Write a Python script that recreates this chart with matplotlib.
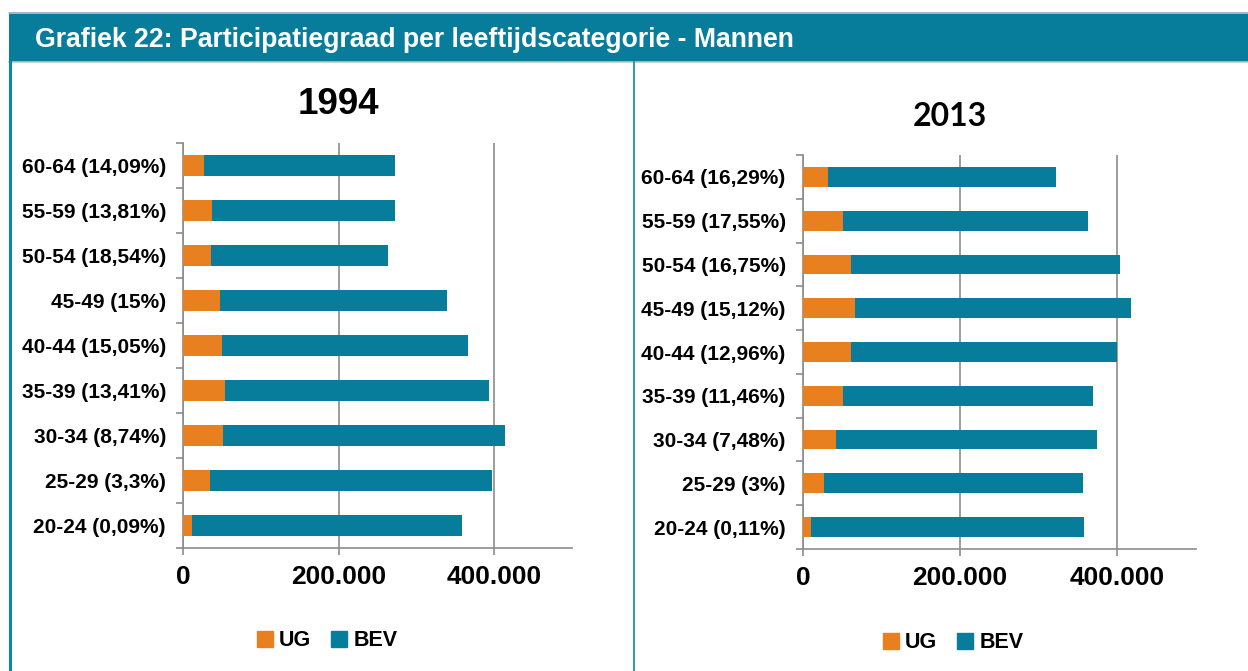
import matplotlib.pyplot as plt
from matplotlib.patches import Rectangle
from matplotlib.lines import Line2D
from matplotlib.ticker import FuncFormatter, FixedLocator

TEAL = "#077d9b"
ORANGE = "#e8801f"
GRID = "#8c8c8c"

plt.rcParams["font.family"] = ["Liberation Sans", "DejaVu Sans"]
plt.rcParams["font.weight"] = "bold"

# ── data (bottom to top) ─────────────────────────────────────────────────
labels_1994 = ["20-24 (0,09%)", "25-29 (3,3%)", "30-34 (8,74%)", "35-39 (13,41%)",
               "40-44 (15,05%)", "45-49 (15%)", "50-54 (18,54%)", "55-59 (13,81%)",
               "60-64 (14,09%)"]
ug_1994 = [11000, 34000, 51000, 53500, 49300, 47200, 36200, 36700, 26200]
tot_1994 = [358500, 396800, 413600, 393200, 365900, 339600, 263000, 272400, 272400]

labels_2013 = ["20-24 (0,11%)", "25-29 (3%)", "30-34 (7,48%)", "35-39 (11,46%)",
               "40-44 (12,96%)", "45-49 (15,12%)", "50-54 (16,75%)", "55-59 (17,55%)",
               "60-64 (16,29%)"]
ug_2013 = [10200, 27000, 41700, 50500, 61700, 66300, 61700, 51000, 32100]
tot_2013 = [358200, 356200, 374600, 369400, 400500, 418400, 404100, 363300, 322400]

bev_1994 = [t - u for t, u in zip(tot_1994, ug_1994)]
bev_2013 = [t - u for t, u in zip(tot_2013, ug_2013)]

W, H = 1248, 671
fig = plt.figure(figsize=(W / 100, H / 100), dpi=100)


def px(x, y):
    return x / W, 1 - y / H


# ── frame / header ───────────────────────────────────────────────────────
fig.patches.append(Rectangle(px(9, 62), (W - 9) / W, 50 / H, transform=fig.transFigure,
                             facecolor=TEAL, edgecolor="none"))
for yy in (12.5, 62):
    fig.lines.append(Line2D([9 / W, 1], [1 - yy / H] * 2, transform=fig.transFigure,
                            color="#c4c4c4", lw=1.2))
fig.lines.append(Line2D([10 / W] * 2, [0, 1 - 62 / H], transform=fig.transFigure,
                        color="#0a86a8", lw=2.2))
fig.lines.append(Line2D([633.5 / W] * 2, [0, 1 - 62 / H], transform=fig.transFigure,
                        color="#0a86a8", lw=1.2))
fig.text(35 / W, 1 - 40 / H, "Grafiek 22: Participatiegraad per leeftijdscategorie - Mannen",
         color="white", fontsize=19.2, fontweight="bold", va="center", ha="left")


def panel(rect, labels, ug, bev, title, title_xy, title_kw, leg_xy):
    ax = fig.add_axes(rect)
    y = range(len(labels))
    ax.barh(y, ug, height=0.45, color=ORANGE, edgecolor="none", zorder=3)
    ax.barh(y, bev, left=ug, height=0.45, color=TEAL, edgecolor="none", zorder=3)
    ax.set_xlim(0, 500000)
    ax.set_ylim(-0.5, len(labels) - 0.5)
    ax.set_xticks([0, 200000, 400000])
    ax.xaxis.set_major_formatter(FuncFormatter(lambda v, p: f"{int(v):,}".replace(",", ".")))
    ax.set_yticks(list(y))
    ax.set_yticklabels(labels, fontsize=15, fontweight="bold")
    ax.yaxis.set_minor_locator(FixedLocator([i - 0.5 for i in range(len(labels) + 1)]))
    ax.tick_params(axis="y", which="major", length=0, pad=12.5)
    ax.tick_params(axis="y", which="minor", length=5, width=1.2, color=GRID, direction="out")
    ax.tick_params(axis="x", length=5, width=1.2, color=GRID, labelsize=19, pad=7.5)
    for t in ax.get_xticklabels():
        t.set_fontweight("bold")
    ax.grid(axis="x", color=GRID, lw=1.2, zorder=0)
    for s in ("top", "right"):
        ax.spines[s].set_visible(False)
    for s in ("left", "bottom"):
        ax.spines[s].set_color(GRID)
        ax.spines[s].set_linewidth(1.2)
    fig.text(*px(*title_xy), title, ha="center", va="center", **title_kw)
    h = [Rectangle((0, 0), 1, 1, color=ORANGE), Rectangle((0, 0), 1, 1, color=TEAL)]
    fig.legend(h, ["UG", "BEV"], loc="center", bbox_to_anchor=px(*leg_xy), ncol=2,
               frameon=False, prop={"size": 15.5, "weight": "bold"}, handlelength=0.75,
               handleheight=0.75, handletextpad=0.3, columnspacing=0.9)
    return ax


panel([183.3 / W, 1 - 548 / H, 388.7 / W, 405 / H], labels_1994, ug_1994, bev_1994,
      "1994", (338, 104), dict(fontsize=26.5, fontweight="bold"), (327, 641))
panel([803 / W, 1 - 549 / H, 392.5 / W, 394 / H], labels_2013, ug_2013, bev_2013,
      "2013", (950, 116), dict(fontsize=23, fontweight="bold", family=["Lato", "DejaVu Sans"]),
      (953, 643))

fig.savefig("out.png", dpi=100)
